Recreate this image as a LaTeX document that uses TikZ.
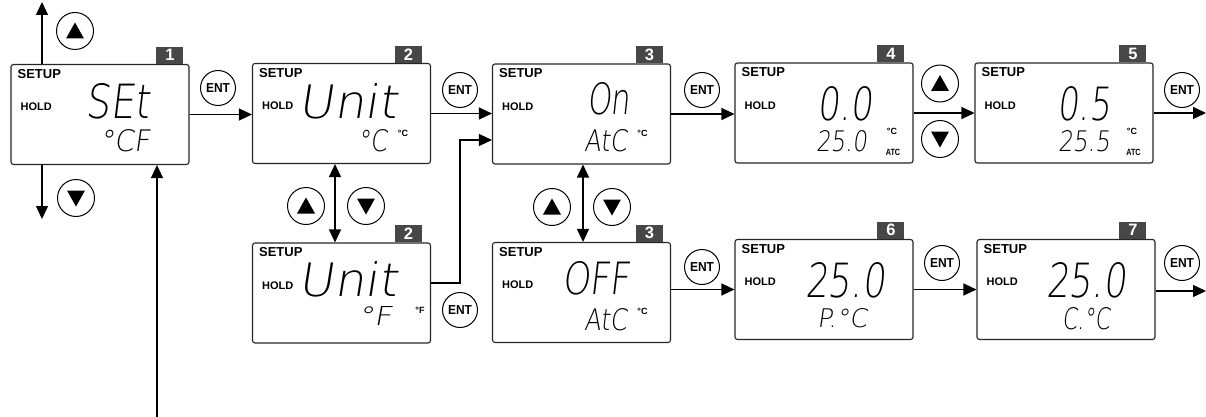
\documentclass[tikz,border=0pt]{standalone}
\usepackage{fontspec}
\usepackage{graphicx}
\setmainfont{Liberation Sans}
\newfontfamily\lcdfont{DejaVu Sans ExtraLight}[FakeSlant=0.15]
\usetikzlibrary{arrows.meta,calc}
\newcommand\lcd[3]{\resizebox{#1pt}{#2pt}{\lcdfont #3}}
\newcommand\narrowtxt[1]{\scalebox{0.8}[1]{#1}}
\begin{document}
\begin{tikzpicture}[x=1pt,y=-1pt,
  lcdbox/.style={draw=black!85,line width=1.1pt,rounded corners=2.5pt,minimum width=178pt,minimum height=100pt,inner sep=0pt,fill=white},
  tabbox/.style={fill=black!72,text=white,font=\fontsize{16.5}{16.5}\selectfont\bfseries,minimum width=27pt,minimum height=17pt,inner sep=0pt,anchor=south east},
  setup/.style={font=\fontsize{13}{13}\selectfont\bfseries,anchor=west,inner sep=0pt},
  hold/.style={font=\fontsize{11}{11}\selectfont\bfseries,anchor=west,inner sep=0pt},
  lcdtext/.style={inner sep=0pt,anchor=center},
  unitlbl/.style={font=\fontsize{9}{9}\selectfont\bfseries,inner sep=0pt},
  btn/.style={draw,circle,line width=1pt,minimum size=37pt,inner sep=0pt},
  entbtn/.style={draw,circle,line width=1pt,minimum size=35pt,inner sep=0pt,font=\fontsize{13}{13}\selectfont\bfseries},
  conn/.style={line width=1.3pt,-{Triangle[length=13pt,width=12pt]}},
  dconn/.style={line width=1.3pt,{Triangle[length=13pt,width=12pt]}-{Triangle[length=13pt,width=12pt]}},
]
\useasboundingbox (0,0) rectangle (1206,417);

% ---------- boxes ----------
\node[lcdbox] (b1)  at (100,114.5) {};
\node[lcdbox] (b2)  at (341.5,113.5) {};
\node[lcdbox] (b2f) at (341.5,293) {};
\node[lcdbox] (b3)  at (581.5,114) {};
\node[lcdbox] (b3f) at (581.5,292.5) {};
\node[lcdbox] (b4)  at (824,113) {};
\node[lcdbox] (b5)  at (1064,113) {};
\node[lcdbox] (b6)  at (824,289.5) {};
\node[lcdbox] (b7)  at (1066,289.5) {};

% ---------- tabs ----------
\node[tabbox] (t1)  at ([xshift=-6pt]b1.north east) {1};
\node[tabbox] (t2)  at ([xshift=-9pt]b2.north east) {2};
\node[tabbox] (t2f) at ([xshift=-9pt]b2f.north east) {2};
\node[tabbox] (t3)  at ([xshift=-8pt]b3.north east) {3};
\node[tabbox] (t3f) at ([xshift=-8pt]b3f.north east) {3};
\node[tabbox] (t4)  at ([xshift=-9pt]b4.north east) {4};
\node[tabbox] (t5)  at ([xshift=-7pt]b5.north east) {5};
\node[tabbox] (t6)  at ([xshift=-9pt]b6.north east) {6};
\node[tabbox] (t7)  at ([xshift=-9pt]b7.north east) {7};

% ---------- SETUP / HOLD ----------
\foreach \b in {b1,b2,b2f,b3,b3f,b4,b5,b6,b7}{
  \node[setup] (s-\b) at ([shift={(7,10)}]\b.north west) {SETUP};
  \node[hold]  (h-\b) at ([shift={(10,43)}]\b.north west) {HOLD};
}

% ---------- LCD texts ----------
\node[lcdtext] (l1a) at (118,101.5) {\lcd{64}{35}{SEt}};
\node[lcdtext] (l1b) at (125,141) {\lcd{50}{22}{°CF}};

\node[lcdtext] (l2a) at (348,101) {\lcd{98}{35}{Unit}};
\node[lcdtext] (l2b) at (372.5,141) {\lcd{29}{22}{°C}};
\node[unitlbl] (u2c) at (403,133) {°C};

\node[lcdtext] (l2fa) at (348,279.5) {\lcd{98}{35}{Unit}};
\node[lcdtext] (l2fb) at (375,316) {\lcd{34}{19}{°F}};
\node[unitlbl] (u2fc) at (420,310) {°F};

\node[lcdtext] (l3a) at (608.5,99) {\lcd{43}{32}{On}};
\node[lcdtext] (l3b) at (605.5,141) {\lcd{43}{22}{AtC}};
\node[unitlbl] (u3c) at (642.5,133.5) {°C};

\node[lcdtext] (l3fa) at (596,278.5) {\lcd{68}{33}{OFF}};
\node[lcdtext] (l3fb) at (605.5,319.5) {\lcd{43}{22}{AtC}};
\node[unitlbl] (u3fc) at (642.5,311) {°C};

\node[lcdtext] (l4a) at (844.5,104) {\lcd{55}{34}{0.0}};
\node[lcdtext] (l4b) at (841.5,141.5) {\lcd{51}{21}{25.0}};
\node[unitlbl] (u4c) at (892,131.5) {°C};
\node[unitlbl] (u4d) at (893,152) {\narrowtxt{ATC}};

\node[lcdtext] (l5a) at (1084,104) {\lcd{53}{34}{0.5}};
\node[lcdtext] (l5b) at (1084,141.5) {\lcd{52}{21}{25.5}};
\node[unitlbl] (u5c) at (1132,131.5) {°C};
\node[unitlbl] (u5d) at (1133.5,152) {\narrowtxt{ATC}};

\node[lcdtext] (l6a) at (845,280.5) {\lcd{80}{35}{25.0}};
\node[lcdtext] (l6b) at (842,318.5) {\lcd{50}{19}{P.°C}};

\node[lcdtext] (l7a) at (1086,280.5) {\lcd{80}{35}{25.0}};
\node[lcdtext] (l7b) at (1086,319) {\lcd{48}{22}{C.°C}};

% ---------- buttons ----------
\newcommand\upbtn[2]{%
  \node[btn] (#1) at (#2) {};
  \fill ($(#1.center)+(-9,7.5)$) -- ($(#1.center)+(9,7.5)$) -- ($(#1.center)+(0,-8.5)$) -- cycle;}
\newcommand\dnbtn[2]{%
  \node[btn] (#1) at (#2) {};
  \fill ($(#1.center)+(-9,-7.5)$) -- ($(#1.center)+(9,-7.5)$) -- ($(#1.center)+(0,8.5)$) -- cycle;}
\upbtn{up1}{75,31}
\dnbtn{dn1}{76,198}
\upbtn{up2}{306,206}
\dnbtn{dn2}{366,206}
\upbtn{up3}{552,207}
\dnbtn{dn3}{612,207}
\upbtn{up4}{940,83.5}
\dnbtn{dn4}{940,139}

\node[entbtn] (e1)  at (218,88) {\scalebox{0.92}[1]{ENT}};
\node[entbtn] (e2)  at (460,90) {\scalebox{0.92}[1]{ENT}};
\node[entbtn] (e2f) at (460,310) {\scalebox{0.92}[1]{ENT}};
\node[entbtn] (e3)  at (702,90) {\scalebox{0.92}[1]{ENT}};
\node[entbtn] (e3f) at (702,267) {\scalebox{0.92}[1]{ENT}};
\node[entbtn] (e5)  at (1182,90) {\scalebox{0.92}[1]{ENT}};
\node[entbtn] (e6)  at (942,263) {\scalebox{0.92}[1]{ENT}};
\node[entbtn] (e7)  at (1182,263) {\scalebox{0.92}[1]{ENT}};

% ---------- connectors ----------
\coordinate (ua) at (42,2);
\coordinate (da) at (42,219);
\coordinate (bot) at (157,417);
\coordinate (jn) at (460,140);
\coordinate (dx2) at (335,0);
\coordinate (dx3) at (583,0);
\coordinate (ex5) at (1206,113);
\coordinate (ex7) at (1206,291);

\draw[conn] (ua |- b1.north) -- (ua);
\draw[conn] (da |- b1.south) -- (da);
\draw[conn] (bot) -- (bot |- b1.south);
\draw[conn] (b1.east) -- (b2.west |- b1.east);
\draw[conn] (b2.east) -- (b3.west |- b2.east);
\draw[conn] ([yshift=10pt]b2f.east) -| (jn) -- (b3.west |- jn);
\draw[dconn] (b2.south -| dx2) -- (b2f.north -| dx2);
\draw[dconn] (b3.south -| dx3) -- (b3f.north -| dx3);
\draw[conn] (b3.east) -- (b4.west |- b3.east);
\draw[conn] (b4.east) -- (b5.west);
\draw[conn] (b5.east) -- (ex5);
\draw[conn] (b3f.east |- b6.west) -- (b6.west);
\draw[conn] (b6.east) -- (b7.west);
\draw[conn] (b7.east |- ex7) -- (ex7);
\end{tikzpicture}
\end{document}
